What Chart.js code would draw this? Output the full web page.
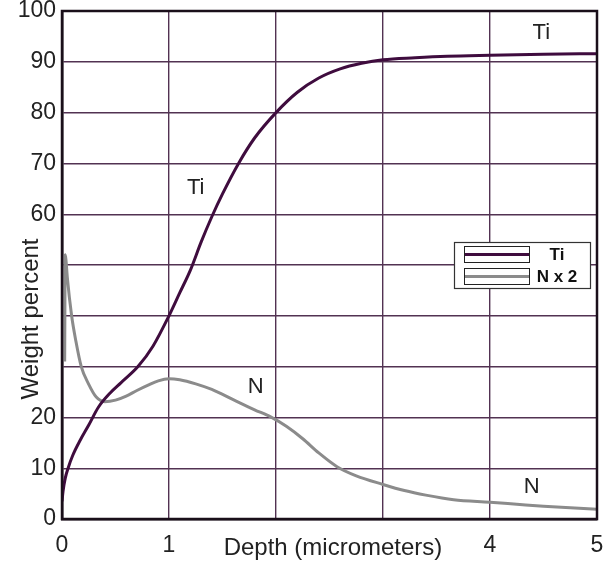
<!DOCTYPE html>
<html><head><meta charset="utf-8">
<script src="https://cdn.jsdelivr.net/npm/chart.js@4/dist/chart.umd.min.js"></script>
<style>html,body{margin:0;padding:0;background:#fff}#wrap{width:611px;height:565px}</style>
</head><body><div id="wrap"><canvas id="c" width="611" height="565"></canvas></div>
<script>
// ---- data ----
const depthTi = [0, 0.01, 0.03, 0.06, 0.1, 0.17, 0.25, 0.34, 0.45, 0.55, 0.71, 0.85, 1.0, 1.1, 1.2, 1.3, 1.4, 1.5, 1.65, 1.8, 2.0, 2.2, 2.4, 2.6, 2.8, 3.0, 3.3, 3.6, 4.0, 4.5, 5.0];
const tiValues = [3.5, 5.5, 8, 10.2, 12.5, 15.5, 18.5, 22, 24.8, 26.8, 30, 34, 40, 44.5, 49, 54.5, 59.5, 64, 70, 75, 80, 84, 86.8, 88.6, 89.7, 90.4, 90.8, 91.1, 91.3, 91.5, 91.6];
const depthN = [0.025, 0.03, 0.037, 0.05, 0.09, 0.13, 0.18, 0.25, 0.32, 0.4, 0.5, 0.6, 0.7, 0.8, 0.9, 1.0, 1.1, 1.25, 1.4, 1.6, 1.8, 1.95, 2.1, 2.25, 2.4, 2.57, 2.75, 3.0, 3.2, 3.4, 3.66, 4.0, 4.25, 4.5, 4.75, 5.0];
const nValues = [31, 52, 51, 47.5, 40, 35, 30, 26.5, 24, 23.1, 23.4, 24.2, 25.3, 26.3, 27.2, 27.6, 27.4, 26.6, 25.5, 23.5, 21.5, 20.1, 18.2, 15.8, 13.0, 10.3, 8.5, 6.8, 5.6, 4.7, 3.8, 3.3, 2.9, 2.5, 2.2, 1.9];
const seriesNames = ['Ti', 'N x 2'];
const xTickLabels = ['0', '1', '', '', '4', '5'];
const yTickLabels = ['0', '10', '20', '', '', '', '60', '70', '80', '90', '100'];
const xTitle = 'Depth (micrometers)';
const yTitle = 'Weight percent';
const curveLabels = ['Ti', 'Ti', 'N', 'N'];
const curveLabelDepth = [4.48, 1.25, 1.81, 4.39];
const curveLabelValue = [95.7, 65.2, 26.0, 6.3];

const TI_COLOR = '#3f0c3e';
const N_COLOR = '#8b8b8b';
const GRID = 'rgb(82,50,82)';
const FONT = '"Liberation Sans", Arial, sans-serif';

const extras = {
  id: 'extras',
  afterDraw(chart) {
    const ctx = chart.ctx, a = chart.chartArea;
    const xs = chart.scales.x, ys = chart.scales.y;
    ctx.save();
    // frame
    ctx.strokeStyle = '#1a0f1a';
    ctx.lineWidth = 2.5;
    ctx.strokeRect(a.left, a.top, a.right - a.left, a.bottom - a.top);
    // axis titles
    ctx.fillStyle = '#222';
    ctx.font = '24px ' + FONT;
    ctx.textAlign = 'center';
    ctx.textBaseline = 'middle';
    ctx.fillText(xTitle, 333, 548);
    ctx.save();
    ctx.translate(38, 319);
    ctx.rotate(-Math.PI / 2);
    ctx.textBaseline = 'alphabetic';
    ctx.fillText(yTitle, 0, 0);
    ctx.restore();
    // curve labels
    ctx.fillStyle = '#222';
    ctx.font = '22px ' + FONT;
    ctx.textBaseline = 'middle';
    for (let i = 0; i < curveLabels.length; i++) {
      ctx.fillText(curveLabels[i], xs.getPixelForValue(curveLabelDepth[i]), ys.getPixelForValue(curveLabelValue[i]));
    }
    // legend
    const lx = 454, ly = 242, lw = 136, lh = 46;
    ctx.fillStyle = '#fff';
    ctx.fillRect(lx, ly, lw, lh);
    ctx.strokeStyle = '#333';
    ctx.lineWidth = 1.2;
    ctx.strokeRect(lx + 0.5, ly + 0.5, lw, lh);
    const ds = chart.data.datasets;
    for (let i = 0; i < ds.length; i++) {
      const sy = ly + 4 + i * 22;
      ctx.strokeStyle = '#222';
      ctx.lineWidth = 1;
      ctx.strokeRect(lx + 10.5, sy + 0.5, 65, 16);
      ctx.strokeStyle = ds[i].borderColor;
      ctx.lineWidth = 3;
      ctx.beginPath();
      ctx.moveTo(lx + 11, sy + 8.5);
      ctx.lineTo(lx + 75, sy + 8.5);
      ctx.stroke();
      ctx.fillStyle = '#111';
      ctx.font = 'bold 17px ' + FONT;
      ctx.textAlign = 'center';
      ctx.fillText(ds[i].label, 557, sy + 9);
    }
    ctx.restore();
  }
};

new Chart(document.getElementById('c'), {
  type: 'line',
  data: {
    datasets: [
      { label: seriesNames[0], data: depthTi.map((d, i) => ({ x: d, y: tiValues[i] })), borderColor: TI_COLOR, borderWidth: 3, pointRadius: 0, cubicInterpolationMode: 'monotone', fill: false },
      { label: seriesNames[1], data: depthN.map((d, i) => ({ x: d, y: nValues[i] })), borderColor: N_COLOR, borderWidth: 3, pointRadius: 0, cubicInterpolationMode: 'monotone', fill: false }
    ]
  },
  options: {
    responsive: false,
    animation: false,
    devicePixelRatio: 1,
    layout: { padding: { top: 11, right: 14, left: 0, bottom: 0 } },
    plugins: { legend: { display: false }, tooltip: { enabled: false } },
    scales: {
      x: {
        type: 'linear', min: 0, max: 5,
        ticks: { stepSize: 1, padding: 13, color: '#222', font: { family: FONT, size: 23 },
          callback: (v) => xTickLabels[Math.round(v)] },
        grid: { color: GRID, lineWidth: 1.4, drawTicks: false },
        border: { display: true, color: '#1a0f1a', width: 2.5 },
        afterFit: (s) => { s.height = 46; s.paddingLeft = 0; s.paddingRight = 0; }
      },
      y: {
        min: 0, max: 100,
        ticks: { stepSize: 10, padding: 6, color: '#222', font: { family: FONT, size: 23 },
          callback: (v) => yTickLabels[Math.round(v / 10)] },
        grid: { color: GRID, lineWidth: 1.4, drawTicks: false },
        border: { display: true, color: '#1a0f1a', width: 2.5 },
        afterFit: (s) => { s.width = 62; s.paddingTop = 0; s.paddingBottom = 0; }
      }
    }
  },
  plugins: [extras]
});
</script>
</body></html>
